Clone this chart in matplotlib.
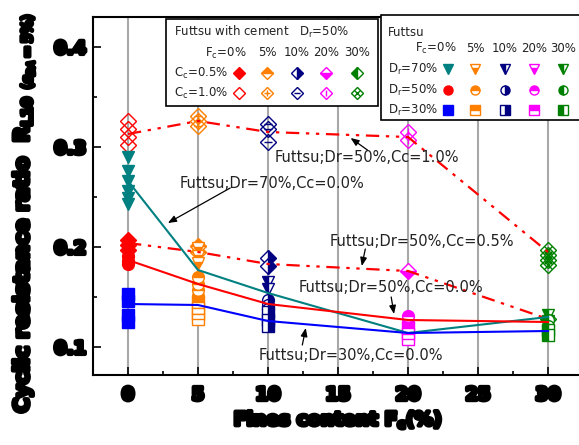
import matplotlib
matplotlib.use("Agg")
import matplotlib.pyplot as plt
import matplotlib.patheffects as pe
from matplotlib.patches import Rectangle

# Fines content levels (%)
fc_levels = [0, 5, 10, 20, 30]

# Mean curves of the cyclic resistance ratio R_L10
dr70_line = [0.266, 0.177, 0.154, 0.114, 0.130]
dr50_line = [0.187, 0.163, 0.143, 0.127, 0.125]
dr30_line = [0.143, 0.142, 0.126, 0.114, 0.116]
cc05_line = [0.204, 0.195, 0.183, 0.176, 0.128]
cc10_line = [0.313, 0.326, 0.315, 0.310, 0.195]

# Individual test results, one list per fines content level
dr70_pts = [[0.290, 0.276, 0.266, 0.256, 0.249, 0.243], [0.199, 0.191, 0.184],
            [0.165, 0.158], [0.118], [0.132, 0.126]]
dr50_pts = [[0.191, 0.186, 0.183], [0.170, 0.163, 0.157, 0.151],
            [0.147, 0.142, 0.138], [0.131, 0.125], [0.127, 0.121]]
dr30_pts = [[0.153, 0.146, 0.132, 0.125], [0.145, 0.139, 0.133, 0.128],
            [0.135, 0.127, 0.121], [0.119, 0.113, 0.108], [0.117, 0.112]]
cc05_pts = [[0.207, 0.202, 0.197], [0.201, 0.195], [0.189, 0.181], [0.176], [0.128]]
cc10_pts = [[0.326, 0.318, 0.310, 0.302], [0.331, 0.326, 0.321],
            [0.323, 0.318, 0.305], [0.315, 0.307], [0.197, 0.192, 0.187, 0.182]]

# Colour per fines content (index 0 depends on the series)
FC_COLORS = [None, "#ff8000", "#000080", "#ff00ff", "#008000"]
TEAL, RED, BLUE = "#008080", "#ff0000", "#0000ff"

# marker, colour at Fc=0, fill style per fines content level
SERIES = {
    "dr70": ("v", TEAL, ["full", "bottom", "left", "bottom", "left"]),
    "dr50": ("o", RED, ["full", "top", "right", "top", "left"]),
    "dr30": ("s", BLUE, ["full", "top", "right", "top", "left"]),
    "cc05": ("D", RED, ["full", "top", "right", "bottom", "left"]),
    "cc10": ("D", RED, ["none", "none", "none", "none", "none"]),
}
CC10_INNER = [None, "+", "_", "|", "x"]

W, H = 579, 445
fig = plt.figure(figsize=(W / 100, H / 100), dpi=100)
ax = fig.add_axes([93 / W, 70 / H, 490 / W, 358 / H])

heavy = [pe.withStroke(linewidth=3.0, foreground="black")]


def marker_style(key, i, ms):
    m, c0, fills = SERIES[key]
    color = c0 if i == 0 else FC_COLORS[i]
    return dict(marker=m, ms=ms, color=color, mec=color, mfc=color,
                fillstyle=fills[i], markerfacecoloralt="white", mew=1.0,
                linestyle="none")


def draw_marker(axis, x, y, key, i, ms=8.5, **kw):
    axis.plot(x, y, **marker_style(key, i, ms), **kw)
    if key == "cc10" and CC10_INNER[i]:
        color = FC_COLORS[i]
        axis.plot(x, y, marker=CC10_INNER[i], ms=ms * 0.75, color=color,
                  mew=1.0, linestyle="none", **kw)


# points
for key, pts in [("cc10", cc10_pts), ("cc05", cc05_pts), ("dr70", dr70_pts),
                 ("dr50", dr50_pts), ("dr30", dr30_pts)]:
    for i, (fc, ys) in enumerate(zip(fc_levels, pts)):
        draw_marker(ax, [fc] * len(ys), ys, key, i, zorder=3)

# curves
dashdot = (0, (6, 3, 1.5, 3, 1.5, 3))
ax.plot(fc_levels, cc10_line, color=RED, lw=1.6, ls=dashdot, zorder=4)
ax.plot(fc_levels, cc05_line, color=RED, lw=1.6, ls=dashdot, zorder=4)
ax.plot(fc_levels, dr70_line, color=TEAL, lw=1.5, zorder=4)
ax.plot(fc_levels, dr50_line, color=RED, lw=1.5, zorder=4)
ax.plot(fc_levels, dr30_line, color=BLUE, lw=1.5, zorder=4)

# callouts
notes = [
    ("Futtsu;Dr=70%,Cc=0.0%", (3.7, 0.264), (7.3, 0.259), (2.85, 0.224)),
    ("Futtsu;Dr=50%,Cc=1.0%", (10.5, 0.289), (17.1, 0.297), (15.9, 0.309)),
    ("Futtsu;Dr=50%,Cc=0.5%", (14.4, 0.205), (16.95, 0.198), (16.7, 0.181)),
    ("Futtsu;Dr=50%,Cc=0.0%", (12.2, 0.159), (18.8, 0.150), (19.0, 0.133)),
    ("Futtsu;Dr=30%,Cc=0.0%", (9.3, 0.092), (12.45, 0.102), (12.7, 0.119)),
]
for text, txy, tail, head in notes:
    ax.text(*txy, text, fontsize=10.5, color="#222222", ha="left", va="center",
            zorder=6)
    ax.annotate("", xy=head, xytext=tail, zorder=6,
                arrowprops=dict(arrowstyle="-|>,head_length=0.5,head_width=0.2",
                                color="black", lw=0.9, shrinkA=0, shrinkB=0))

ax.set_xlim(-2.5, 32.5)
ax.set_ylim(0.072, 0.43)
ax.set_xticks(range(0, 31, 5))
ax.set_xticks([x + 2.5 for x in range(-5, 35, 5)], minor=True)
ax.set_yticks([0.1, 0.2, 0.3, 0.4])
ax.set_yticks([0.15, 0.25, 0.35], minor=True)
ax.set_yticklabels(["0.1", "0.2", "0.3", "0.4"])
ax.xaxis.grid(True, color="#a8a8a8", lw=1.5)
ax.set_axisbelow(True)
ax.tick_params(direction="in", which="both", top=False, right=False,
               width=1.2, labelsize=13)
ax.tick_params(which="major", length=6)
ax.tick_params(which="minor", length=3)
ax.tick_params(axis="x", pad=8)
ax.tick_params(axis="y", pad=5)
for lab in ax.get_xticklabels() + ax.get_yticklabels():
    lab.set_fontweight("heavy")
    lab.set_path_effects(heavy)
for s in ax.spines.values():
    s.set_linewidth(1.5)

ax.set_xlabel("Fines content F$_\\mathbf{c}$(%)", fontsize=13.5,
              fontweight="heavy", path_effects=heavy, labelpad=3)
ax.set_ylabel("Cyclic resistance ratio  R$_{\\mathbf{L10}}$ "
              "$_{(\\epsilon_{DA}=5\\%)}$",
              fontsize=14.8, fontweight="heavy", path_effects=heavy)
ax.yaxis.set_label_coords(-0.115, 0.45)

# legend panels drawn in pixel space
lg = fig.add_axes([0, 0, 1, 1], facecolor="none")
lg.set_xlim(0, W)
lg.set_ylim(H, 0)
lg.axis("off")

lg.add_patch(Rectangle((166, 19), 212, 87, fill=True, facecolor="white",
                       edgecolor="black", lw=1.2))
lg.add_patch(Rectangle((381, 15), 220, 105, fill=True, facecolor="white",
                       edgecolor="black", lw=1.2))

txt = dict(fontsize=8.5, color="#222222", va="center")
lg.text(174, 32, "Futtsu with cement   D$_\\mathregular{r}$=50%", **txt)
cols1 = [239, 267, 297, 326, 357]
lg.text(247, 53, "F$_\\mathregular{c}$=0%", ha="right", **txt)
for x, lab in zip(cols1[1:], ["5%", "10%", "20%", "30%"]):
    lg.text(x, 53, lab, ha="center", **txt)
for y, lab, key in [(73, "C$_\\mathregular{c}$=0.5%", "cc05"),
                    (93, "C$_\\mathregular{c}$=1.0%", "cc10")]:
    lg.text(174, y, lab, **txt)
    for i, x in enumerate(cols1):
        draw_marker(lg, [x], [y], key, i, ms=6.5)

lg.text(388, 32, "Futtsu", **txt)
cols2 = [448, 475, 505, 534, 563]
lg.text(457, 48, "F$_\\mathregular{c}$=0%", ha="right", **txt)
for x, lab in zip(cols2[1:], ["5%", "10%", "20%", "30%"]):
    lg.text(x, 48, lab, ha="center", **txt)
for y, lab, key in [(69, "D$_\\mathregular{r}$=70%", "dr70"),
                    (90, "D$_\\mathregular{r}$=50%", "dr50"),
                    (110, "D$_\\mathregular{r}$=30%", "dr30")]:
    lg.text(388, y, lab, **txt)
    for i, x in enumerate(cols2):
        draw_marker(lg, [x], [y], key, i, ms=6.5)

fig.savefig("out.png", dpi=100)
